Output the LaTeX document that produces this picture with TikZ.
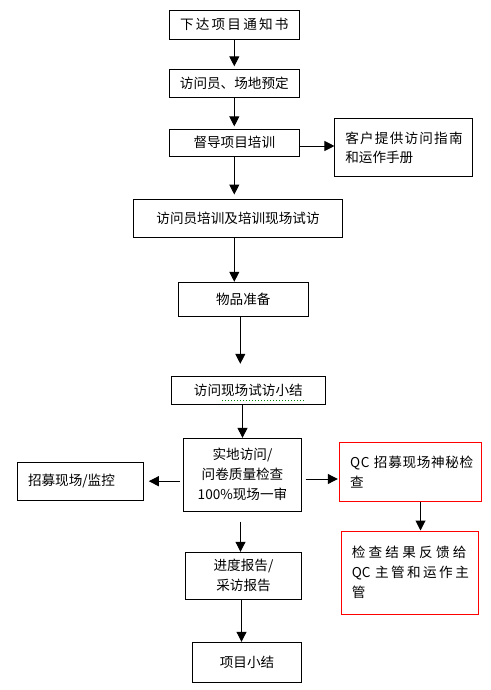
\documentclass[tikz,border=0pt]{standalone}
\usepackage{fontspec}
\setmainfont{Noto Sans CJK SC}
\usetikzlibrary{arrows.meta}

\newcommand{\spaced}[2]{{\addfontfeature{LetterSpace=#1}#2}}

\begin{document}
\begin{tikzpicture}[x=1pt,y=-1pt,line width=1pt,font=\fontsize{13.6}{20}\selectfont]

      \useasboundingbox (0,0) rectangle (490,690);

      \begin{scope}[every node/.style={draw,inner sep=0pt,align=center}]
        \node[minimum width=130,minimum height=29.3]   (1)  at (234.3,24.7)  {\spaced{16}{下达项目通知书}};
        \node[minimum width=130,minimum height=28.4]   (2)  at (234.3,83.5)  {访问员、场地预定};
        \node[minimum width=130,minimum height=26.7]   (3)  at (234.3,142.7) {督导项目培训};
        \node[minimum width=209.4,minimum height=38.3] (4)  at (238,218.2)   {访问员培训及培训现场试访};
        \node[minimum width=130,minimum height=34]     (5)  at (243.3,299.3) {物品准备};
        \node[minimum width=154,minimum height=27.6]   (6)  at (248.3,390.5) {访问现场试访小结};
        \node[minimum width=118.4,minimum height=72.7] (7)  at (242.5,474.7) {实地访问/\\问卷质量检查\\100\%现场一审};
        \node[minimum width=116.4,minimum height=47]   (8)  at (243.5,575.8) {进度报告/\\采访报告};
        \node[minimum width=109.4,minimum height=40]   (9)  at (247,662.3)   {项目小结};
      \end{scope}

      \begin{scope}[every node/.style={draw,inner sep=0pt,align=left}]
        \node[minimum width=137.7,minimum height=58.4,text width=117,
              font=\fontsize{13.6}{18.7}\selectfont]          (10) at (403.8,147.5) {\spaced{9}{客户提供访问指南}\\和运作手册};
        \node[minimum width=126,minimum height=37.7,text width=104.6]   (11) at (80.3,481.2)  {招募现场/监控};
        \node[draw=red,minimum width=142.4,minimum height=58.7,text width=121] (12) at (410.5,471.7) {\spaced{5}{QC~招募现场神秘检}\\查};
        \node[draw=red,minimum width=137.3,minimum height=83,text width=115.9] (13) at (409.7,572.5)
          {\spaced{24}{检查结果反馈给}\\QC~\spaced{18}{主管和运作主}\\管};
      \end{scope}

      % spell check mark under the text of 6
      \draw[green!50!black,dash pattern=on 1pt off 2pt] ([shift={(51.4pt,4pt)}]6.south west) -- ([shift={(-21.3pt,4pt)}]6.south east);

      \begin{scope}[every edge/.style={draw,-{Triangle[length=10pt,width=10pt]}}]
        \path (1) edge[shorten >=2.5] (2);
        \path (2) edge[shorten >=2.5] (3);
        \path (3) edge[shorten >=4] (3 |- 4.north);
        \path ([yshift=-3.3pt]3.east) edge ([yshift=-3.3pt]3.east -| 10.west);
        \path (4.south -| 3) edge (3 |- 5.north);
        \path ([xshift=-3pt]5.south) edge[shorten >=12.4] ([xshift=-3pt]5.south |- 6.north);
        \path (6.south -| 7) edge (7.north);
        \path (7.west |- 11) edge[shorten <=3.3,shorten >=5] (11.east);
        \path ([yshift=-4.3pt]7.east) edge[shorten <=3.3,shorten >=1] ([yshift=-4.3pt]7.east -| 12.west);
        \path ([xshift=10pt]12.south) edge ([xshift=10pt]12.south |- 13.north);
        \path ([xshift=-2pt]7.south) edge[shorten <=10] ([xshift=-2pt]7.south |- 8.north);
        \path ([xshift=-2pt]8.south) edge ([xshift=-2pt]8.south |- 9.north);
      \end{scope}

    \end{tikzpicture}
\end{document}
